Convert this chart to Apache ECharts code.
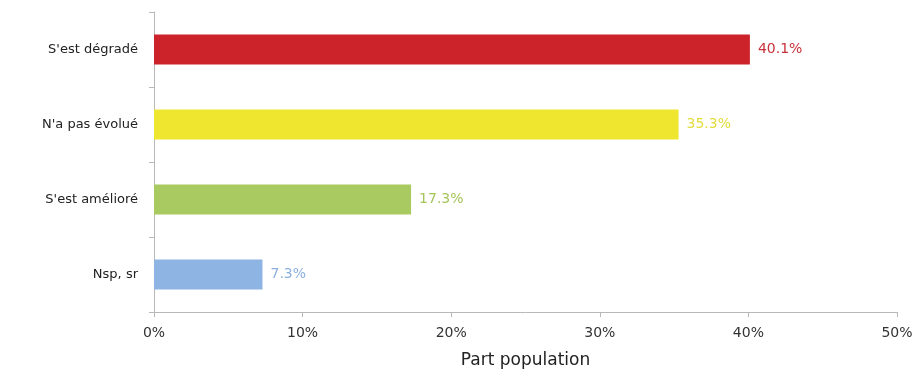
<!DOCTYPE html>
<html>
<head>
<meta charset="utf-8">
<script src="https://cdn.jsdelivr.net/npm/echarts@6/dist/echarts.min.js"></script>
<style>
  html, body { margin: 0; padding: 0; background: #fff; }
  #chart { width: 918px; height: 370px; }
</style>
</head>
<body>
<div id="chart"></div>
<script>
// categories top to bottom (axis is inverted)
const categories = ["S'est dégradé", "N'a pas évolué", "S'est amélioré", 'Nsp, sr'];
const values = [40.1, 35.3, 17.3, 7.3];
const barColors = ['#cc2229', '#efe62f', '#a9c961', '#8eb4e3'];
const labelColors = ['#c8323a', '#e3dc3c', '#a6c45c', '#8cb0de'];
const xTicks = [0, 10, 20, 30, 40, 50];

const myChart = echarts.init(document.getElementById('chart'));
const font = '"DejaVu Sans", sans-serif';

const option = {
  animation: false,
  grid: { left: 154, right: 21, top: 12, bottom: 58, outerBoundsMode: 'none' },
  xAxis: {
    type: 'value',
    min: xTicks[0],
    max: xTicks[xTicks.length - 1],
    interval: 10,
    name: 'Part population',
    nameLocation: 'middle',
    nameGap: 40,
    nameTextStyle: { fontSize: 17, color: '#222', fontFamily: font },
    axisLine: { show: true, lineStyle: { color: '#b8b8b8' } },
    axisTick: { show: true, length: 5, lineStyle: { color: '#b8b8b8' } },
    axisLabel: { formatter: '{value}%', fontSize: 14, color: '#333', margin: 14, fontFamily: font },
    splitLine: { show: false }
  },
  yAxis: {
    type: 'category',
    inverse: true,
    data: categories,
    axisLine: { show: true, lineStyle: { color: '#b8b8b8' } },
    axisTick: { show: true, length: 5, lineStyle: { color: '#b8b8b8' } },
    axisLabel: { fontSize: 13, color: '#222', margin: 16, fontFamily: font }
  },
  series: [{
    type: 'bar',
    barWidth: 30,
    data: values.map((v, i) => ({
      value: v,
      itemStyle: { color: barColors[i] },
      label: { color: labelColors[i] }
    })),
    label: {
      show: true,
      position: 'right',
      distance: 8,
      fontSize: 14,
      fontFamily: font,
      formatter: p => p.value.toFixed(1) + '%'
    }
  }]
};

myChart.setOption(option);
</script>
</body>
</html>
